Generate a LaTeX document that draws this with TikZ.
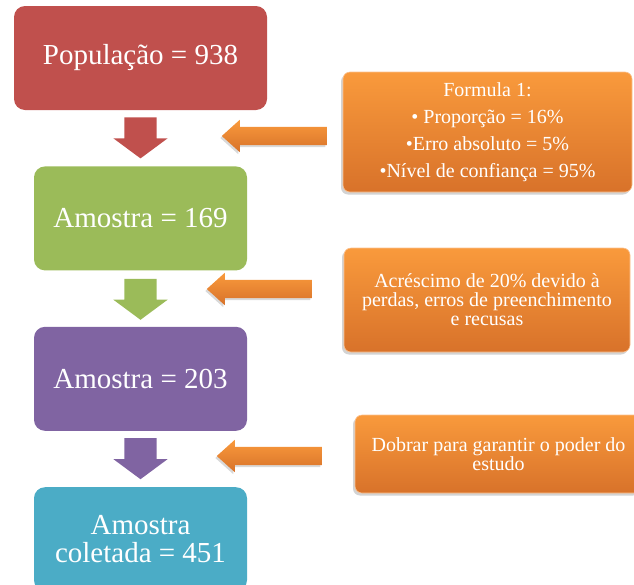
\documentclass[tikz,border=0pt]{standalone}
\usepackage{fontspec}
\setmainfont{Liberation Serif}
\usepackage{xcolor}
\usepackage{tikz}
\usetikzlibrary{positioning,shapes.arrows,shadows,calc}
\definecolor{popred}{HTML}{C0504D}
\definecolor{samplegreen}{HTML}{9BBB59}
\definecolor{samplepurple}{HTML}{8064A2}
\definecolor{sampleblue}{HTML}{4BACC6}
\definecolor{notetop}{HTML}{F99A3C}
\definecolor{notebottom}{HTML}{D8722A}
\definecolor{noteedge}{HTML}{FBC08E}
\newcommand{\bigtext}{\fontsize{29}{28}\selectfont}
\newcommand{\notetext}{\fontsize{20}{19}\selectfont}

\begin{document}
\begin{tikzpicture}[
  x=1pt, y=-1pt,
  node distance=56pt,
  stage/.style={rounded corners=11pt, align=center, minimum width=213pt,
    minimum height=104pt, text=white, font=\bigtext, inner sep=0pt},
  note/.style={draw=noteedge, line width=0.6pt, rounded corners=7pt, align=center,
    text=white, font=\notetext, top color=notetop, bottom color=notebottom,
    inner sep=0pt, drop shadow={opacity=0.35, shadow xshift=-2pt, shadow yshift=-2.5pt}},
  down/.style={single arrow, shape border rotate=270, minimum height=41pt,
    inner xsep=16pt, inner ysep=0pt, single arrow head extend=11pt,
    single arrow tip angle=107, anchor=tail},
  side/.style={single arrow, shape border rotate=180, minimum height=105pt,
    inner ysep=9pt, inner xsep=0pt, single arrow head extend=7pt,
    single arrow tip angle=84, anchor=tail, top color=notetop, bottom color=notebottom,
    drop shadow={opacity=0.3, shadow xshift=-1.5pt, shadow yshift=-2pt}}
]
\useasboundingbox (0,0) rectangle (634,584);

\node[stage, fill=popred, minimum width=253pt] (pop) at (140.5,58) {População = 938};
\node[stage, fill=samplegreen, below=of pop] (s169) {Amostra = 169};
\node[stage, fill=samplepurple, below=of s169] (s203) {Amostra = 203};
\node[stage, fill=sampleblue, below=of s203] (s451) {Amostra\\coletada = 451};

\node[down, fill=popred] (d1) at ($(pop.south)+(0,7)$) {};
\node[down, fill=samplegreen] (d2) at ($(s169.south)+(0,8)$) {};
\node[down, fill=samplepurple] (d3) at ($(s203.south)+(0,7)$) {};

\node[note, minimum width=289pt, minimum height=120pt, font=\fontsize{20}{27}\selectfont]
  (formula) at (487.5,132) {Formula 1:\\• Proporção = 16\%\\•Erro absoluto = 5\%\\•Nível de confiança = 95\%};
\node[note, minimum width=286pt, minimum height=104pt]
  (loss) at (487,300) {Acréscimo de 20\% devido à\\perdas, erros de preenchimento\\e recusas};
\node[note, minimum width=287pt, minimum height=78pt]
  (power) at (498.5,454) {Dobrar para garantir o poder do\\estudo};

\node[side] (a1) at (327,136) {};
\node[side] (a2) at (312,289) {};
\node[side] (a3) at (322,456) {};
\end{tikzpicture}
\end{document}
